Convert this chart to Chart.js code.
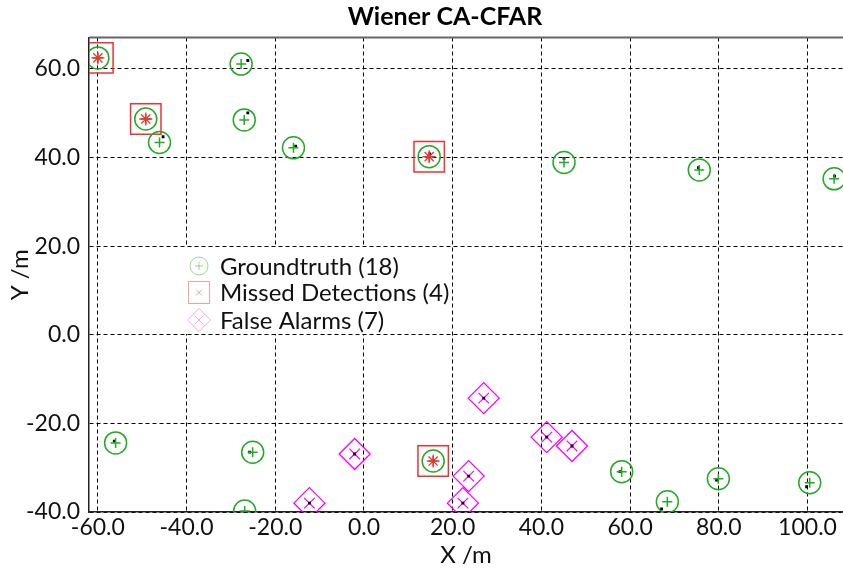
<!DOCTYPE html>
<html>
<head>
<meta charset="utf-8">
<script src="https://cdn.jsdelivr.net/npm/chart.js@4.4.1/dist/chart.umd.min.js"></script>
<style>
  html, body { margin: 0; padding: 0; background: #fff; }
  #wrap { width: 843px; height: 571px; }
</style>
</head>
<body>
<div id="wrap"><canvas id="chart" width="843" height="571"></canvas></div>
<script>
  'use strict';

  // ground truth targets
  const GT_X = [-60.0, -49.2, -46.1, -27.7, -27.0, -15.9, 14.7, 45.1, 75.6, 106.0,
                -56.0, -25.1, -26.9, 15.6, 58.1, 68.4, 79.9, 100.5];
  const GT_Y = [62.5, 48.7, 43.4, 61.1, 48.5, 42.2, 40.2, 38.9, 37.2, 35.2,
                -24.4, -26.5, -39.8, -28.5, -30.9, -37.7, -32.5, -33.4];

  // missed detections
  const MISS_X = [-60.0, -49.2, 14.7, 15.6];
  const MISS_Y = [62.5, 48.7, 40.2, -28.5];

  // false alarms
  const FA_X = [27.0, -2.1, 41.2, 46.9, 23.6, 22.3, -12.3];
  const FA_Y = [-14.3, -26.9, -23.1, -25.1, -31.9, -38.0, -38.0];

  // raw detections (black marks)
  const DET_X = [-45.3, -26.2, -26.2, -15.4, 14.8, 45.1, 75.4, 106.1, -56.3, -25.8,
                 57.7, 67.1, 79.5, 99.8, 27.0, -2.1, 41.2, 46.9, 23.6, 22.3, -12.3];
  const DET_Y = [44.7, 61.9, 50.1, 42.6, 40.8, 39.8, 37.7, 35.8, -24.0, -26.5,
                 -30.9, -39.3, -32.8, -34.3, -14.3, -26.9, -23.1, -25.1, -31.9, -38.0, -38.0];

  const X_TICKS = [-60, -40, -20, 0, 20, 40, 60, 80, 100];
  const Y_TICKS = [-40, -20, 0, 20, 40, 60];

  const LEGEND = ['Groundtruth (18)', 'Missed Detections (4)', 'False Alarms (7)'];

  const GREEN   = '#22aa22';
  const RED     = '#ee3333';
  const MAGENTA = '#ff00ff';
  const FONT    = 'Lato';

  function pts(xs, ys) {
    return xs.map((x, i) => ({ x: x, y: ys[i] }));
  }

  function marks(label, xs, ys, style, radius, color, width, fill) {
    return {
      label: label,
      data: pts(xs, ys),
      pointStyle: style,
      pointRadius: radius,
      pointHoverRadius: radius,
      pointBorderColor: color,
      pointBackgroundColor: fill || 'transparent',
      pointBorderWidth: width,
      showLine: false,
      clip: 0,
    };
  }

  // legend inside the plot, with combined symbols
  const legendBox = {
    id: 'legendBox',
    afterLayout(chart) {
      // title sits a little right of the canvas centre
      if (chart.titleBlock) chart.titleBlock.left = 47;
    },
    afterDatasetsDraw(chart) {
      const { ctx, chartArea: a } = chart;
      ctx.save();
      ctx.strokeStyle = '#666';
      ctx.lineWidth = 2;
      ctx.beginPath();
      ctx.moveTo(a.left, a.top);
      ctx.lineTo(a.right, a.top);
      ctx.stroke();

      ctx.fillStyle = '#fff';
      ctx.fillRect(180, 247, 250, 87);

      const ix = 199;
      const rows = [266, 292.5, 320];
      ctx.lineWidth = 1;

      // groundtruth
      ctx.strokeStyle = 'rgba(34,170,34,0.45)';
      ctx.beginPath();
      ctx.arc(ix, rows[0], 9, 0, Math.PI * 2);
      ctx.moveTo(ix - 4, rows[0]); ctx.lineTo(ix + 4, rows[0]);
      ctx.moveTo(ix, rows[0] - 4); ctx.lineTo(ix, rows[0] + 4);
      ctx.stroke();

      // missed
      ctx.strokeStyle = 'rgba(220,50,50,0.45)';
      ctx.beginPath();
      ctx.rect(ix - 10.5, rows[1] - 11, 21, 22);
      ctx.moveTo(ix - 3, rows[1] - 3); ctx.lineTo(ix + 3, rows[1] + 3);
      ctx.moveTo(ix + 3, rows[1] - 3); ctx.lineTo(ix - 3, rows[1] + 3);
      ctx.stroke();

      // false alarms
      ctx.strokeStyle = 'rgba(220,0,220,0.35)';
      ctx.beginPath();
      ctx.moveTo(ix - 11.5, rows[2]); ctx.lineTo(ix, rows[2] - 11.5);
      ctx.lineTo(ix + 11.5, rows[2]); ctx.lineTo(ix, rows[2] + 11.5);
      ctx.closePath();
      ctx.moveTo(ix - 4, rows[2] - 4); ctx.lineTo(ix + 4, rows[2] + 4);
      ctx.moveTo(ix + 4, rows[2] - 4); ctx.lineTo(ix - 4, rows[2] + 4);
      ctx.stroke();

      ctx.fillStyle = '#111';
      ctx.font = '24px ' + FONT;
      ctx.textBaseline = 'middle';
      LEGEND.forEach((t, i) => ctx.fillText(t, 220, rows[i] + 1));
      ctx.restore();
    },
  };

  function axis(ticks, min, max, title, horizontal) {
    return {
      type: 'linear',
      min: min,
      max: max,
      afterBuildTicks: s => { s.ticks = ticks.map(v => ({ value: v })); },
      afterFit: s => {
        if (horizontal) s.height = 59; else s.width = 89;
      },
      grid: { color: '#000', lineWidth: 1, drawTicks: false },
      border: { display: true, color: '#222', width: 1.5, dash: [4, 3] },
      ticks: {
        color: '#111',
        padding: horizontal ? 2 : 9,
        font: { family: FONT, size: 23 },
        callback: v => Number(v).toFixed(1),
      },
      title: {
        display: true,
        text: title,
        color: '#111',
        font: { family: FONT, size: 24 },
        padding: horizontal ? { top: 0, bottom: 1 } : { top: 6, bottom: 0 },
      },
    };
  }

  new Chart(document.getElementById('chart'), {
    type: 'scatter',
    data: {
      datasets: [
        marks('miss-star', MISS_X, MISS_Y, 'star', 6.5, RED, 1.3),
        marks('gt-plus', GT_X, GT_Y, 'cross', 5, GREEN, 1.5),
        marks('det', DET_X, DET_Y, 'rect', 2, '#000', 0, '#000'),
        marks('fa-x', FA_X, FA_Y, 'crossRot', 7.5, MAGENTA, 1.2),
        marks('gt', GT_X, GT_Y, 'circle', 11, GREEN, 1.5),
        marks('miss', MISS_X, MISS_Y, 'rect', 21.5, RED, 1.5),
        marks('fa', FA_X, FA_Y, 'rectRot', 15.5, MAGENTA, 1.3),
      ],
    },
    options: {
      responsive: false,
      animation: false,
      layout: { padding: 0, autoPadding: false },
      scales: {
        x: axis(X_TICKS, -62.0, 108.0, 'X /m', true),
        y: axis(Y_TICKS, -40, 67.1, 'Y /m', false),
      },
      plugins: {
        legend: { display: false },
        tooltip: { enabled: false },
        title: {
          display: true,
          text: 'Wiener CA-CFAR',
          color: '#000',
          font: { family: FONT, size: 25, weight: 'bold' },
          padding: { top: 2, bottom: 5.5 },
        },
      },
    },
    plugins: [legendBox],
  });
</script>
</body>
</html>
